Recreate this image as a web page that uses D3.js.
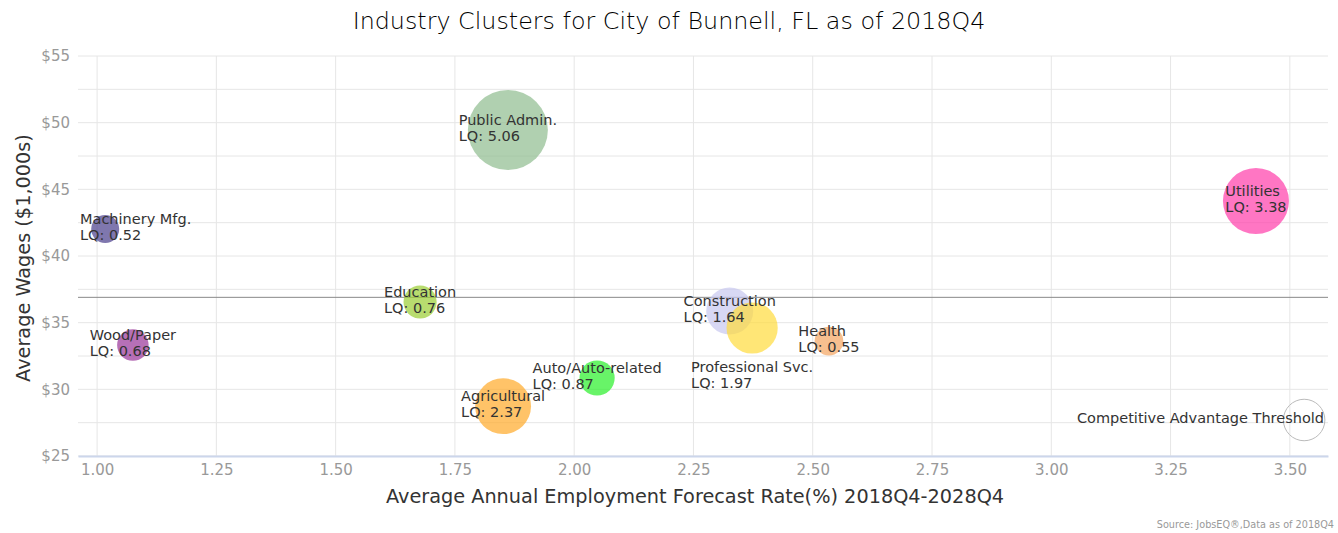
<!DOCTYPE html>
<html lang="en">
<head>
    <meta charset="UTF-8">
    <title>Industry Clusters for City of Bunnell, FL</title>
    <script src="https://d3js.org/d3.v7.min.js"></script>
    <style>
        body {
            margin: 0;
            background: #fff;
        }
        svg text {
            font-family: "DejaVu Sans", sans-serif;
        }
        .grid line {
            stroke: #e6e6e6;
            stroke-width: 1;
        }
        .tick-label {
            fill: #999;
            font-size: 15px;
        }
        .bubble-label {
            fill: #333;
            font-size: 14.5px;
        }
    </style>
</head>
<body>
    <svg id="chart" width="1338" height="533"></svg>

    <script>
        // industry clusters, in draw order
        const clusters = ["Public Admin.", "Machinery Mfg.", "Education", "Wood/Paper", "Agricultural",
            "Auto/Auto-related", "Construction", "Professional Svc.", "Health", "Utilities"];
        const forecastRate = [1.861, 1.017, 1.677, 1.075, 1.851, 2.048, 2.326, 2.373, 2.534, 3.429];
        const avgWages = [49.45, 42.02, 36.55, 33.32, 28.74, 30.85, 35.87, 34.60, 33.62, 44.12];
        const lq = [5.06, 0.52, 0.76, 0.68, 2.37, 0.87, 1.64, 1.97, 0.55, 3.38];
        const colors = ["rgba(143,188,143,0.7)", "rgba(72,61,139,0.7)", "rgba(154,205,50,0.7)",
            "rgba(153,51,153,0.7)", "rgba(255,170,40,0.7)", "rgba(40,240,40,0.7)",
            "rgba(200,200,240,0.7)", "rgba(255,220,60,0.7)", "rgba(244,164,96,0.7)",
            "rgba(255,60,170,0.7)"];

        // legend bubble for the threshold
        const thresholdName = "Competitive Advantage Threshold";
        const thresholdPoint = [3.53, 27.7, 1];
        const wageThreshold = 36.9;

        const xTicks = [1.00, 1.25, 1.50, 1.75, 2.00, 2.25, 2.50, 2.75, 3.00, 3.25, 3.50];
        const yTicks = [25, 30, 35, 40, 45, 50, 55];
        const yGrid = [25, 27.5, 30, 32.5, 35, 37.5, 40, 42.5, 45, 47.5, 50, 52.5, 55];

        const svg = d3.select("#chart");
        const plot = {left: 78, right: 1328, top: 56, bottom: 456};

        const x = d3.scaleLinear().domain([0.96, 3.58]).range([plot.left, plot.right]);
        const y = d3.scaleLinear().domain([25, 55]).range([plot.bottom, plot.top]);
        const r = d3.scaleSqrt().domain([0.52, 5.06]).range([14, 40]);

        // title
        svg.append("text")
            .attr("x", 669)
            .attr("y", 29)
            .attr("text-anchor", "middle")
            .attr("font-size", "23.8px")
            .attr("font-weight", 200)
            .attr("fill", "#000")
            .text("Industry Clusters for City of Bunnell, FL as of 2018Q4");

        // grid
        const grid = svg.append("g").attr("class", "grid");
        grid.selectAll(".gx")
            .data(xTicks)
            .enter()
            .append("line")
            .attr("x1", d => x(d)).attr("x2", d => x(d))
            .attr("y1", plot.top).attr("y2", plot.bottom);
        grid.selectAll(".gy")
            .data(yGrid)
            .enter()
            .append("line")
            .attr("x1", plot.left).attr("x2", plot.right)
            .attr("y1", d => y(d)).attr("y2", d => y(d));

        // x axis
        const xAxis = svg.append("g")
            .attr("transform", `translate(0,${plot.bottom})`)
            .call(d3.axisBottom(x).tickValues(xTicks).tickFormat(d3.format(".2f")).tickSize(0).tickPadding(8));
        xAxis.select(".domain").attr("stroke", "#ccd6eb").attr("stroke-width", 2);
        xAxis.selectAll("text").attr("class", "tick-label").attr("font-family", null).attr("font-size", null).attr("fill", null);

        // y axis
        const yAxis = svg.append("g")
            .attr("transform", `translate(${plot.left},0)`)
            .call(d3.axisLeft(y).tickValues(yTicks).tickFormat(d => "$" + d).tickSize(0).tickPadding(8));
        yAxis.select(".domain").remove();
        yAxis.selectAll("text").attr("class", "tick-label").attr("font-family", null).attr("font-size", null).attr("fill", null);

        // axis titles
        svg.append("text")
            .attr("x", (plot.left + plot.right) / 2 - 8)
            .attr("y", 503)
            .attr("text-anchor", "middle")
            .attr("font-size", "19.3px")
            .attr("fill", "#333")
            .text("Average Annual Employment Forecast Rate(%) 2018Q4-2028Q4");

        svg.append("text")
            .attr("transform", `translate(30,${(plot.top + plot.bottom) / 2 + 2}) rotate(-90)`)
            .attr("text-anchor", "middle")
            .attr("font-size", "19.3px")
            .attr("fill", "#333")
            .text("Average Wages ($1,000s)");

        // threshold line
        svg.append("line")
            .attr("x1", plot.left).attr("x2", plot.right)
            .attr("y1", y(wageThreshold)).attr("y2", y(wageThreshold))
            .attr("stroke", "#888")
            .attr("stroke-width", 1);

        const data = clusters.map((name, i) => ({
            name: name,
            x: forecastRate[i],
            y: avgWages[i],
            lq: lq[i],
            color: colors[i]
        }));

        // bubbles
        svg.append("g")
            .selectAll("circle")
            .data(data)
            .enter()
            .append("circle")
            .attr("cx", d => x(d.x))
            .attr("cy", d => y(d.y))
            .attr("r", d => r(d.lq))
            .attr("fill", d => d.color);

        svg.append("circle")
            .attr("cx", x(thresholdPoint[0]))
            .attr("cy", y(thresholdPoint[1]))
            .attr("r", r(thresholdPoint[2]) + 2)
            .attr("fill", "none")
            .attr("stroke", "#bbb");

        // labels, centred on bubble, moved below if they collide
        const lineH = 16;
        const placed = [];
        const labelLayer = svg.append("g");

        function overlaps(a, b) {
            const pad = 6;
            return a.x0 < b.x1 && a.x1 > b.x0 && a.y0 + pad < b.y1 && a.y1 > b.y0 + pad;
        }

        function addLabel(lines, cx, cy, rad) {
            const t = labelLayer.append("text").attr("class", "bubble-label");
            lines.forEach((ln, i) => t.append("tspan").attr("x", 0).attr("dy", i === 0 ? 0 : lineH).text(ln));
            const w = t.node().getBBox().width;
            const h = lines.length * lineH;
            const candidates = [cy, cy + rad + 7 + h / 2];
            let box = null;
            for (const c of candidates) {
                let x0 = cx - w / 2;
                x0 = Math.max(plot.left + 2, Math.min(plot.right - 4 - w, x0));
                const b = {x0: x0, x1: x0 + w, y0: c - h / 2, y1: c + h / 2};
                box = b;
                if (!placed.some(p => overlaps(p, b))) break;
            }
            placed.push(box);
            t.attr("transform", `translate(${box.x0},${box.y0 + 11})`);
        }

        data.forEach(d => addLabel([d.name, "LQ: " + d.lq.toFixed(2)], x(d.x), y(d.y), r(d.lq)));
        addLabel([thresholdName], x(thresholdPoint[0]), y(thresholdPoint[1]), r(thresholdPoint[2]));

        // source
        svg.append("text")
            .attr("x", 1334)
            .attr("y", 528)
            .attr("text-anchor", "end")
            .attr("font-size", "9.7px")
            .attr("fill", "#999")
            .text("Source: JobsEQ®,Data as of 2018Q4");
    </script>
</body>
</html>
